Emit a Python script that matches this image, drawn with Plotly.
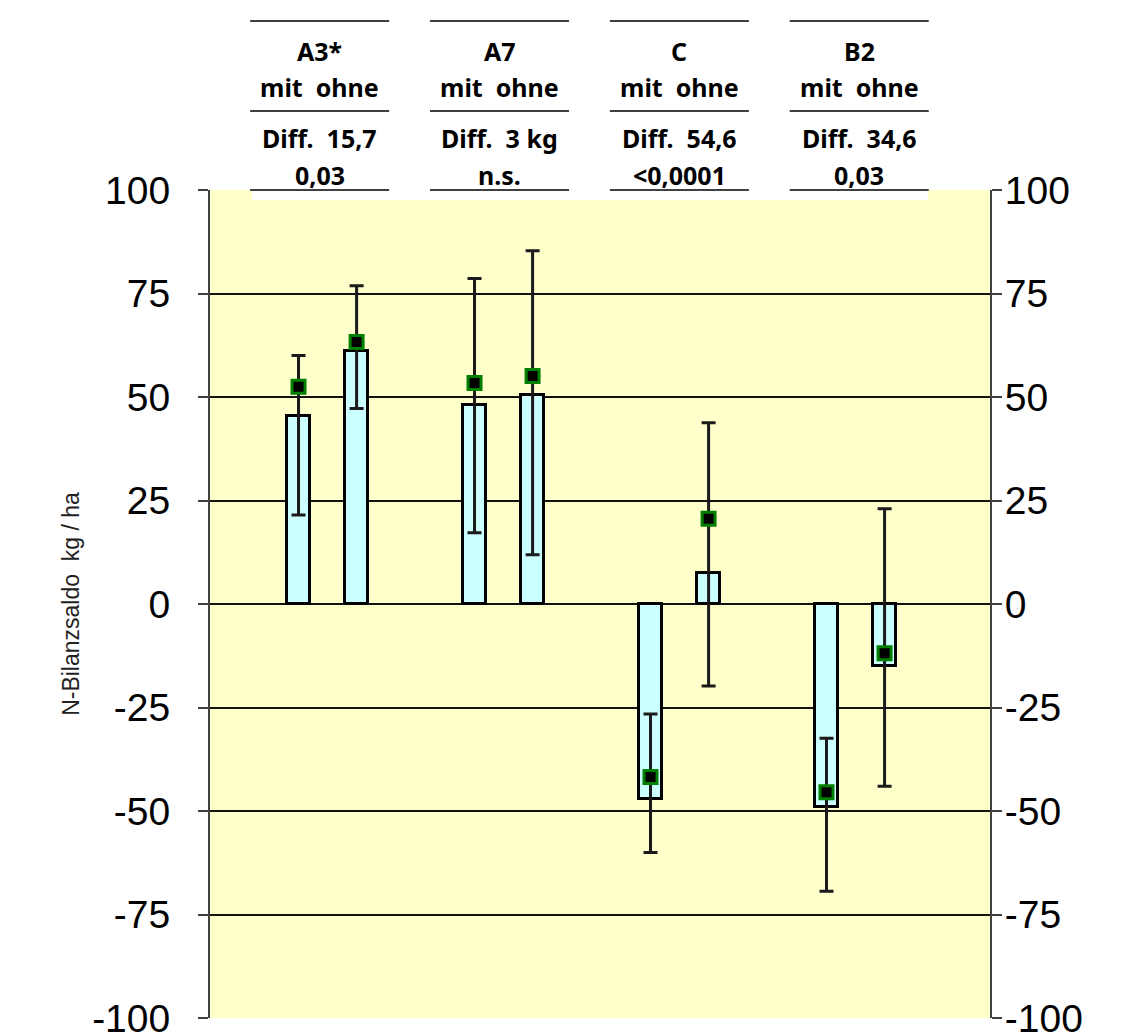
import plotly.graph_objects as go

groups = ["A3*", "A7", "C", "B2"]
treatments = ["mit", "ohne"]
bar_values = [[45.5, 61.0], [48.0, 50.5], [-47.0, 7.5], [-49.0, -15.0]]
marker_values = [[52.5, 63.3], [53.4, 55.1], [-41.8, 20.6], [-45.5, -11.9]]
err_top = [[60.0, 76.9], [78.6, 85.3], [-26.6, 43.8], [-32.4, 23.0]]
err_bottom = [[21.5, 47.2], [17.2, 11.9], [-60.0, -19.8], [-69.4, -44.0]]
diff_text = ["Diff.\u00a0 15,7", "Diff.\u00a0 3 kg", "Diff.\u00a0 54,6", "Diff.\u00a0 34,6"]
p_text = ["0,03", "n.s.", "&lt;0,0001", "0,03"]
tick_vals = [-100, -75, -50, -25, 0, 25, 50, 75, 100]
tick_text = ["-100", "-75", "-50", "-25", "0", "25", "50", "75", "100"]

offset = 0.165
xs, ys, ms, ep, em = [], [], [], [], []
for gi in range(len(groups)):
    for ti in range(len(treatments)):
        xs.append(gi + (-offset if ti == 0 else offset))
        ys.append(bar_values[gi][ti])
        m = marker_values[gi][ti]
        ms.append(m)
        ep.append(err_top[gi][ti] - m)
        em.append(m - err_bottom[gi][ti])

fig = go.Figure()
fig.add_trace(go.Bar(x=xs, y=ys, width=0.13,
                     marker=dict(color="#CCFFFF", line=dict(color="black", width=3)),
                     hoverinfo="skip"))
fig.add_trace(go.Scatter(x=xs, y=ms, mode="markers",
                         marker=dict(size=1, color="rgba(0,0,0,0)"),
                         error_y=dict(type="data", symmetric=False, array=ep, arrayminus=em,
                                      color="#1a1a1a", thickness=3, width=7)))
fig.add_trace(go.Scatter(x=xs, y=ms, mode="markers",
                         marker=dict(symbol="square", size=13, color="black",
                                     line=dict(color="#008000", width=3))))
fig.add_trace(go.Scatter(x=[0], y=[0], yaxis="y2", mode="markers",
                         marker=dict(color="rgba(0,0,0,0)"), hoverinfo="skip"))

axis_common = dict(range=[-100, 100], tickvals=tick_vals, ticktext=tick_text,
                   showline=True, linecolor="#404040", linewidth=2,
                   ticks="outside", ticklen=10, tickwidth=2, tickcolor="#404040",
                   tickfont=dict(family="Liberation Sans, Arial", size=39, color="black"))

shapes = []
# white area under header
shapes.append(dict(type="rect", xref="x", yref="paper", x0=-0.429, x1=3.412, y0=0.988, y1=1.0015,
                   fillcolor="white", line=dict(width=0), layer="above"))
annotations = []
for gi, g in enumerate(groups):
    cx = gi * 1.022 - 0.045
    for yy in [1.204, 1.0954, 1.0]:
        shapes.append(dict(type="line", xref="x", yref="paper", x0=cx - 0.395, x1=cx + 0.395,
                           y0=yy, y1=yy, line=dict(color="#404040", width=2), layer="above"))
    rows = [(g, 1.168), ("mit\u00a0\u00a0ohne", 1.1244), (diff_text[gi], 1.0628), (p_text[gi], 1.018)]
    for txt, yy in rows:
        annotations.append(dict(text="<b>" + txt + "</b>", x=cx, y=yy, xref="x", yref="paper",
                                showarrow=False, xanchor="center", yanchor="middle",
                                font=dict(family="Noto Sans", size=25, color="black")))

fig.update_layout(
    width=1146, height=1034,
    margin=dict(l=202, r=164, t=182, b=24, autoexpand=False),
    paper_bgcolor="white", plot_bgcolor="#FFFFCC",
    showlegend=False,
    bargap=0,
    xaxis=dict(range=[-0.668, 3.764], showticklabels=False, showgrid=False, zeroline=False,
               showline=False, ticks=""),
    yaxis=dict(**axis_common, side="left", showgrid=True, gridcolor="#111111", gridwidth=1.5,
               zeroline=True, zerolinecolor="#111111", zerolinewidth=1.5,
               ticklabelstandoff=20,
               title=dict(text="N-Bilanzsaldo\u00a0 kg / ha", standoff=6,
                          font=dict(family="Liberation Sans, Arial", size=23, color="#222222"))),
    yaxis2=dict(**axis_common, side="right", overlaying="y", showgrid=False, zeroline=False,
                ticklabelstandoff=-5),
    shapes=shapes,
    annotations=annotations,
)

fig.write_html("out.html")
